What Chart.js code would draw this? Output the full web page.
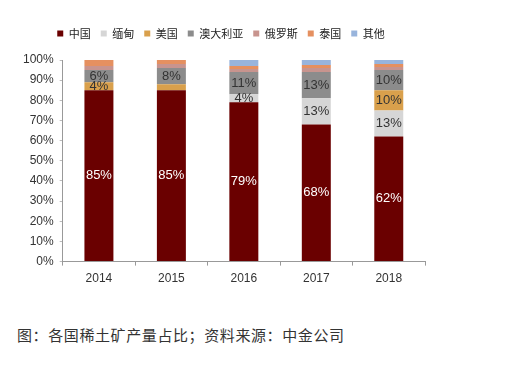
<!DOCTYPE html>
<html>
<head>
<meta charset="utf-8">
<script src="https://cdn.jsdelivr.net/npm/chart.js@4/dist/chart.umd.min.js"></script>
<style>
  html, body { margin: 0; padding: 0; background: #fff; }
  #wrap { position: absolute; left: 0; top: 0; width: 442px; height: 300px; }
  #caption {
    position: absolute; left: 17px; top: 324px;
    font: 15px "Noto Sans CJK SC", sans-serif; color: #333; letter-spacing: 0.6px;
    white-space: nowrap;
  }
</style>
</head>
<body>
<div id="wrap"><canvas id="chart" width="442" height="300"></canvas></div>
<div id="caption">图：各国稀土矿产量占比；资料来源：中金公司</div>
<script>
// 年份与各国占比（%）
const years = ['2014', '2015', '2016', '2017', '2018'];
const seriesNames = ['中国', '缅甸', '美国', '澳大利亚', '俄罗斯', '泰国', '其他'];
const china     = [85, 85, 79, 68, 62];
const myanmar   = [0, 0, 4, 13, 13];
const usa       = [4, 3, 0, 0, 10];
const australia = [6, 8, 11, 13, 10];
const russia    = [2, 2, 1.5, 2, 1.5];
const thailand  = [3, 2, 1.5, 1.5, 1.5];
const others    = [0, 0, 3, 2.5, 2];
const yTicks = [0, 10, 20, 30, 40, 50, 60, 70, 80, 90, 100];

const colors = ['#6a0000', '#d6d6d6', '#d9a04c', '#8c8c8c', '#c8948e', '#e59060', '#98b4dc'];
const allValues = [china, myanmar, usa, australia, russia, thailand, others];

// 在柱子中间写百分比（>=4 的才写）
const barLabels = {
  id: 'barLabels',
  afterDatasetsDraw(chart) {
    const ctx = chart.ctx;
    ctx.save();
    ctx.font = '13px "Liberation Sans", Arial, sans-serif';
    ctx.textAlign = 'center';
    ctx.textBaseline = 'middle';
    chart.data.datasets.forEach((ds, i) => {
      const meta = chart.getDatasetMeta(i);
      meta.data.forEach((bar, j) => {
        const v = ds.data[j];
        if (v < 4) return;
        ctx.fillStyle = i === 0 ? '#ffffff' : '#333333';
        ctx.fillText(v + '%', bar.x, (bar.y + bar.base) / 2);
      });
    });
    ctx.restore();
  }
};

// 图例下方多留一点空
const legendGap = {
  id: 'legendGap',
  beforeInit(chart) {
    const fit = chart.legend.fit;
    chart.legend.fit = function () {
      fit.bind(chart.legend)();
      this.height += 11;
    };
  }
};

new Chart(document.getElementById('chart'), {
  type: 'bar',
  data: {
    labels: years,
    datasets: seriesNames.map((name, i) => ({
      label: name,
      data: allValues[i],
      backgroundColor: colors[i],
      borderWidth: 0,
      barPercentage: 0.8,
      categoryPercentage: 0.5
    }))
  },
  options: {
    responsive: false,
    animation: false,
    layout: { padding: { top: 18, right: 17, left: 17, bottom: 8 } },
    plugins: {
      legend: {
        position: 'top',
        labels: {
          boxWidth: 6, boxHeight: 6, padding: 10,
          color: '#222',
          font: { family: '"Noto Sans CJK SC", sans-serif', size: 11 }
        }
      },
      tooltip: { enabled: false }
    },
    scales: {
      x: {
        stacked: true,
        grid: { display: true, drawOnChartArea: false, offset: true, tickLength: 4, color: '#999' },
        border: { color: '#999' },
        ticks: { color: '#333', font: { family: '"Liberation Sans", Arial', size: 12 }, padding: 6 }
      },
      y: {
        stacked: true,
        min: 0, max: 100,
        afterBuildTicks(axis) { axis.ticks = yTicks.map(v => ({ value: v })); },
        grid: { display: true, drawOnChartArea: false, tickLength: 3, color: '#bbb' },
        border: { color: '#999' },
        ticks: {
          color: '#333', padding: 6,
          font: { family: '"Liberation Sans", Arial', size: 12 },
          callback: v => v + '%'
        }
      }
    }
  },
  plugins: [barLabels, legendGap]
});
</script>
</body>
</html>
